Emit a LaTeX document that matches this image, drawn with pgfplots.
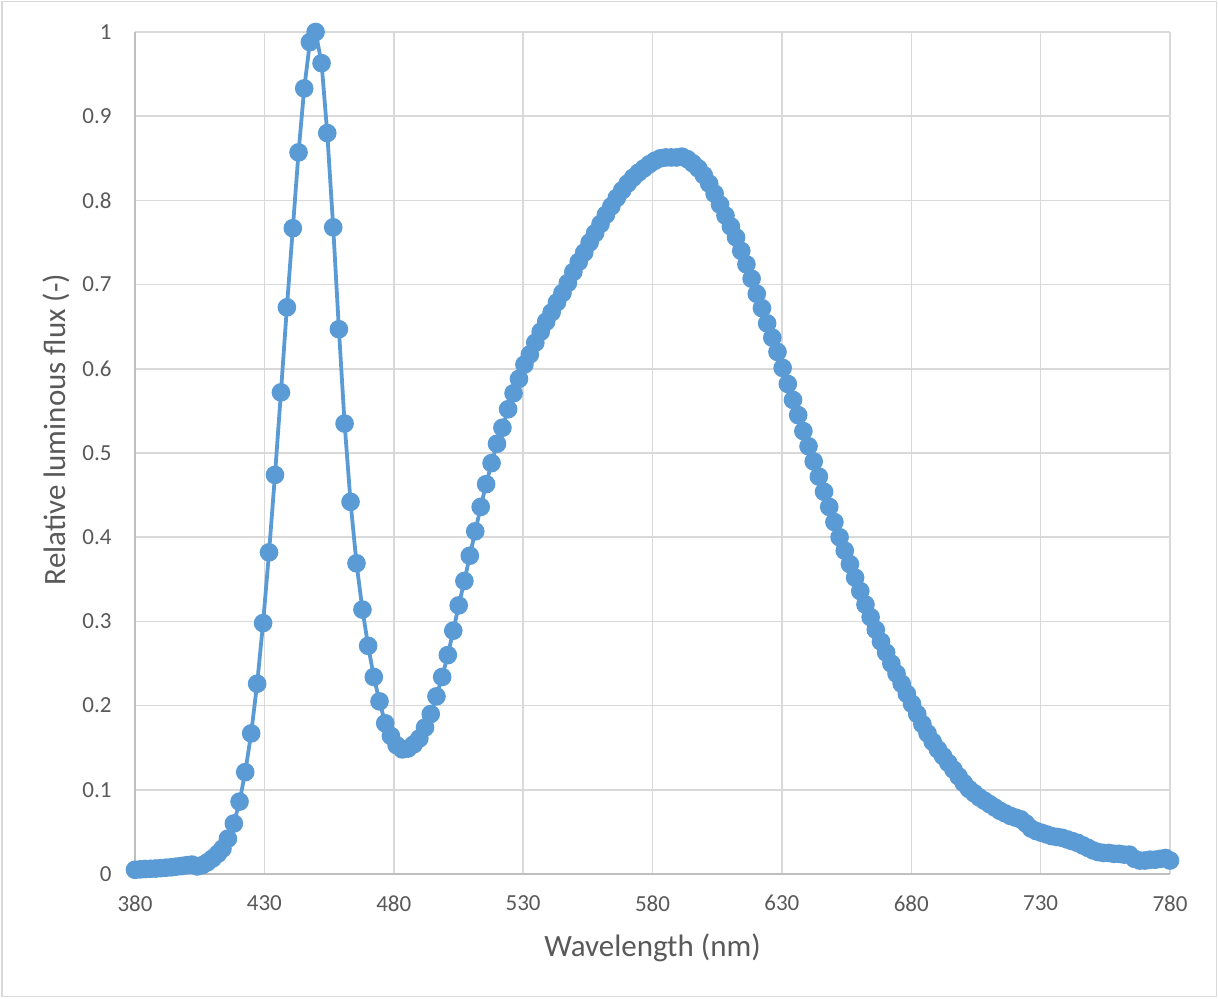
\documentclass[border=0pt]{standalone}
\usepackage{pgfplots}
\pgfplotsset{compat=1.18}
\usepackage{fontspec}
\setmainfont{Carlito}
\definecolor{series}{HTML}{5B9BD5}
\definecolor{txt}{HTML}{595959}
\definecolor{gridc}{HTML}{D9D9D9}
\definecolor{axc}{HTML}{BFBFBF}
\begin{document}
\begin{tikzpicture}
\path[use as bounding box] (0,0) rectangle (609pt,499pt);
\draw[gridc, line width=0.7pt] (0.9pt,0.9pt) rectangle (608.1pt,498.1pt);
\begin{axis}[
  at={(67.5pt,62pt)}, anchor=south west,
  width=517.5pt, height=421pt, scale only axis,
  xmin=380, xmax=780, ymin=0, ymax=1,
  xtick={380,430,...,780},
  ytick={0,0.1,0.2,0.3,0.4,0.5,0.6,0.7,0.8,0.9,1},
  yticklabels={0,0.1,0.2,0.3,0.4,0.5,0.6,0.7,0.8,0.9,1},
  grid=major,
  major grid style={gridc, line width=0.75pt},
  axis x line*=bottom, axis y line*=left,
  axis line style={axc, line width=0.8pt, -},
  major tick length=0pt,
  /pgf/number format/assume math mode=true,
  tick label style={font=\fontsize{11.5}{13}\selectfont, text=txt, inner sep=0pt},
  yticklabel style={anchor=east, xshift=-11.5pt},
  xticklabel style={anchor=north, yshift=-10.5pt},
  xlabel={Wavelength (nm)},
  ylabel={Relative luminous flux (-)},
  label style={font=\fontsize{15.5}{18}\selectfont, text=txt, inner sep=0pt},
  xlabel style={at={([yshift=-41pt]axis description cs:0.5,0)}, anchor=base},
  ylabel style={at={([xshift=-34.75pt]axis description cs:0,0.528)}, anchor=base},
  clip=false,
]
\addplot[series, line width=1.9pt, mark=*, mark size=3.7pt, mark options={fill=series, draw=none}] table {
x y
380 0.005
382 0.0055
384 0.006
386 0.0062
388 0.0065
390 0.007
392 0.0075
394 0.008
396 0.0088
398 0.0095
400 0.0105
402 0.0112
404 0.009
406 0.0105
408 0.014
410 0.0185
412.0 0.024
413.8 0.030
415.9 0.042
418.2 0.060
420.4 0.086
422.6 0.121
424.9 0.167
427.2 0.226
429.5 0.298
431.8 0.382
434.1 0.474
436.4 0.572
438.7 0.673
441.0 0.767
443.2 0.857
445.4 0.933
447.6 0.988
449.8 1.000
452.1 0.963
454.3 0.880
456.6 0.768
458.8 0.647
461.0 0.535
463.3 0.442
465.6 0.369
467.9 0.314
470.1 0.271
472.3 0.234
474.5 0.205
476.7 0.179
478.9 0.164
481.1 0.153
483.3 0.148
485.5 0.149
487.7 0.154
489.9 0.161
492.1 0.174
494.3 0.190
496.5 0.211
498.7 0.234
500.9 0.260
503.0 0.289
505.1 0.319
507.3 0.348
509.4 0.378
511.5 0.407
513.6 0.436
515.7 0.463
517.8 0.488
519.9 0.511
522.0 0.530
524.2 0.552
526.3 0.571
528.4 0.588
530.5 0.605
532.6 0.617
534.7 0.631
536.8 0.644
538.9 0.656
541.0 0.667
543.1 0.679
545.2 0.690
547.3 0.702
549.4 0.715
551.5 0.727
553.6 0.738
555.7 0.750
557.8 0.761
559.9 0.772
562.0 0.783
564.1 0.793
566.2 0.803
568.3 0.812
570.4 0.820
572.5 0.827
574.6 0.833
576.7 0.838
578.8 0.843
580.9 0.847
583.0 0.850
585.1 0.851
587.2 0.851
589.3 0.851
591.4 0.852
593.5 0.849
595.6 0.844
597.7 0.838
599.8 0.830
601.9 0.820
604.0 0.808
606.1 0.795
608.2 0.782
610.3 0.769
612.3 0.756
614.3 0.740
616.3 0.724
618.3 0.707
620.3 0.689
622.3 0.672
624.3 0.654
626.3 0.637
628.3 0.620
630.3 0.601
632.3 0.582
634.3 0.563
636.3 0.545
638.3 0.526
640.3 0.508
642.3 0.490
644.3 0.472
646.3 0.454
648.3 0.436
650.3 0.418
652.3 0.400
654.3 0.384
656.3 0.368
658.3 0.352
660.3 0.336
662.3 0.320
664.3 0.305
666.3 0.290
668.3 0.276
670.3 0.263
672.3 0.250
674.3 0.238
676.3 0.226
678.3 0.214
680.3 0.202
682.3 0.190
684.3 0.178
686.3 0.167
688.3 0.157
690.3 0.148
692.3 0.140
694.3 0.132
696.3 0.124
698.3 0.116
700.3 0.108
702.3 0.101
704.3 0.096
706.3 0.091
708.3 0.087
710.3 0.083
712.3 0.079
714.3 0.075
716.3 0.072
718.3 0.069
720.3 0.067
722.3 0.065
724.3 0.060
726.3 0.054
728.3 0.051
730.3 0.049
732.3 0.047
734.3 0.045
736.3 0.044
738.3 0.043
740.3 0.041
742.3 0.039
744.3 0.037
746.3 0.034
748.3 0.031
750.3 0.028
752.3 0.026
754.3 0.025
756.3 0.025
758.3 0.024
760.3 0.024
762.3 0.023
764.3 0.023
766.3 0.018
768.3 0.016
770.3 0.016
772.3 0.017
774.3 0.017
776.3 0.018
778.3 0.019
780.0 0.016
};
\end{axis}
\end{tikzpicture}
\end{document}
